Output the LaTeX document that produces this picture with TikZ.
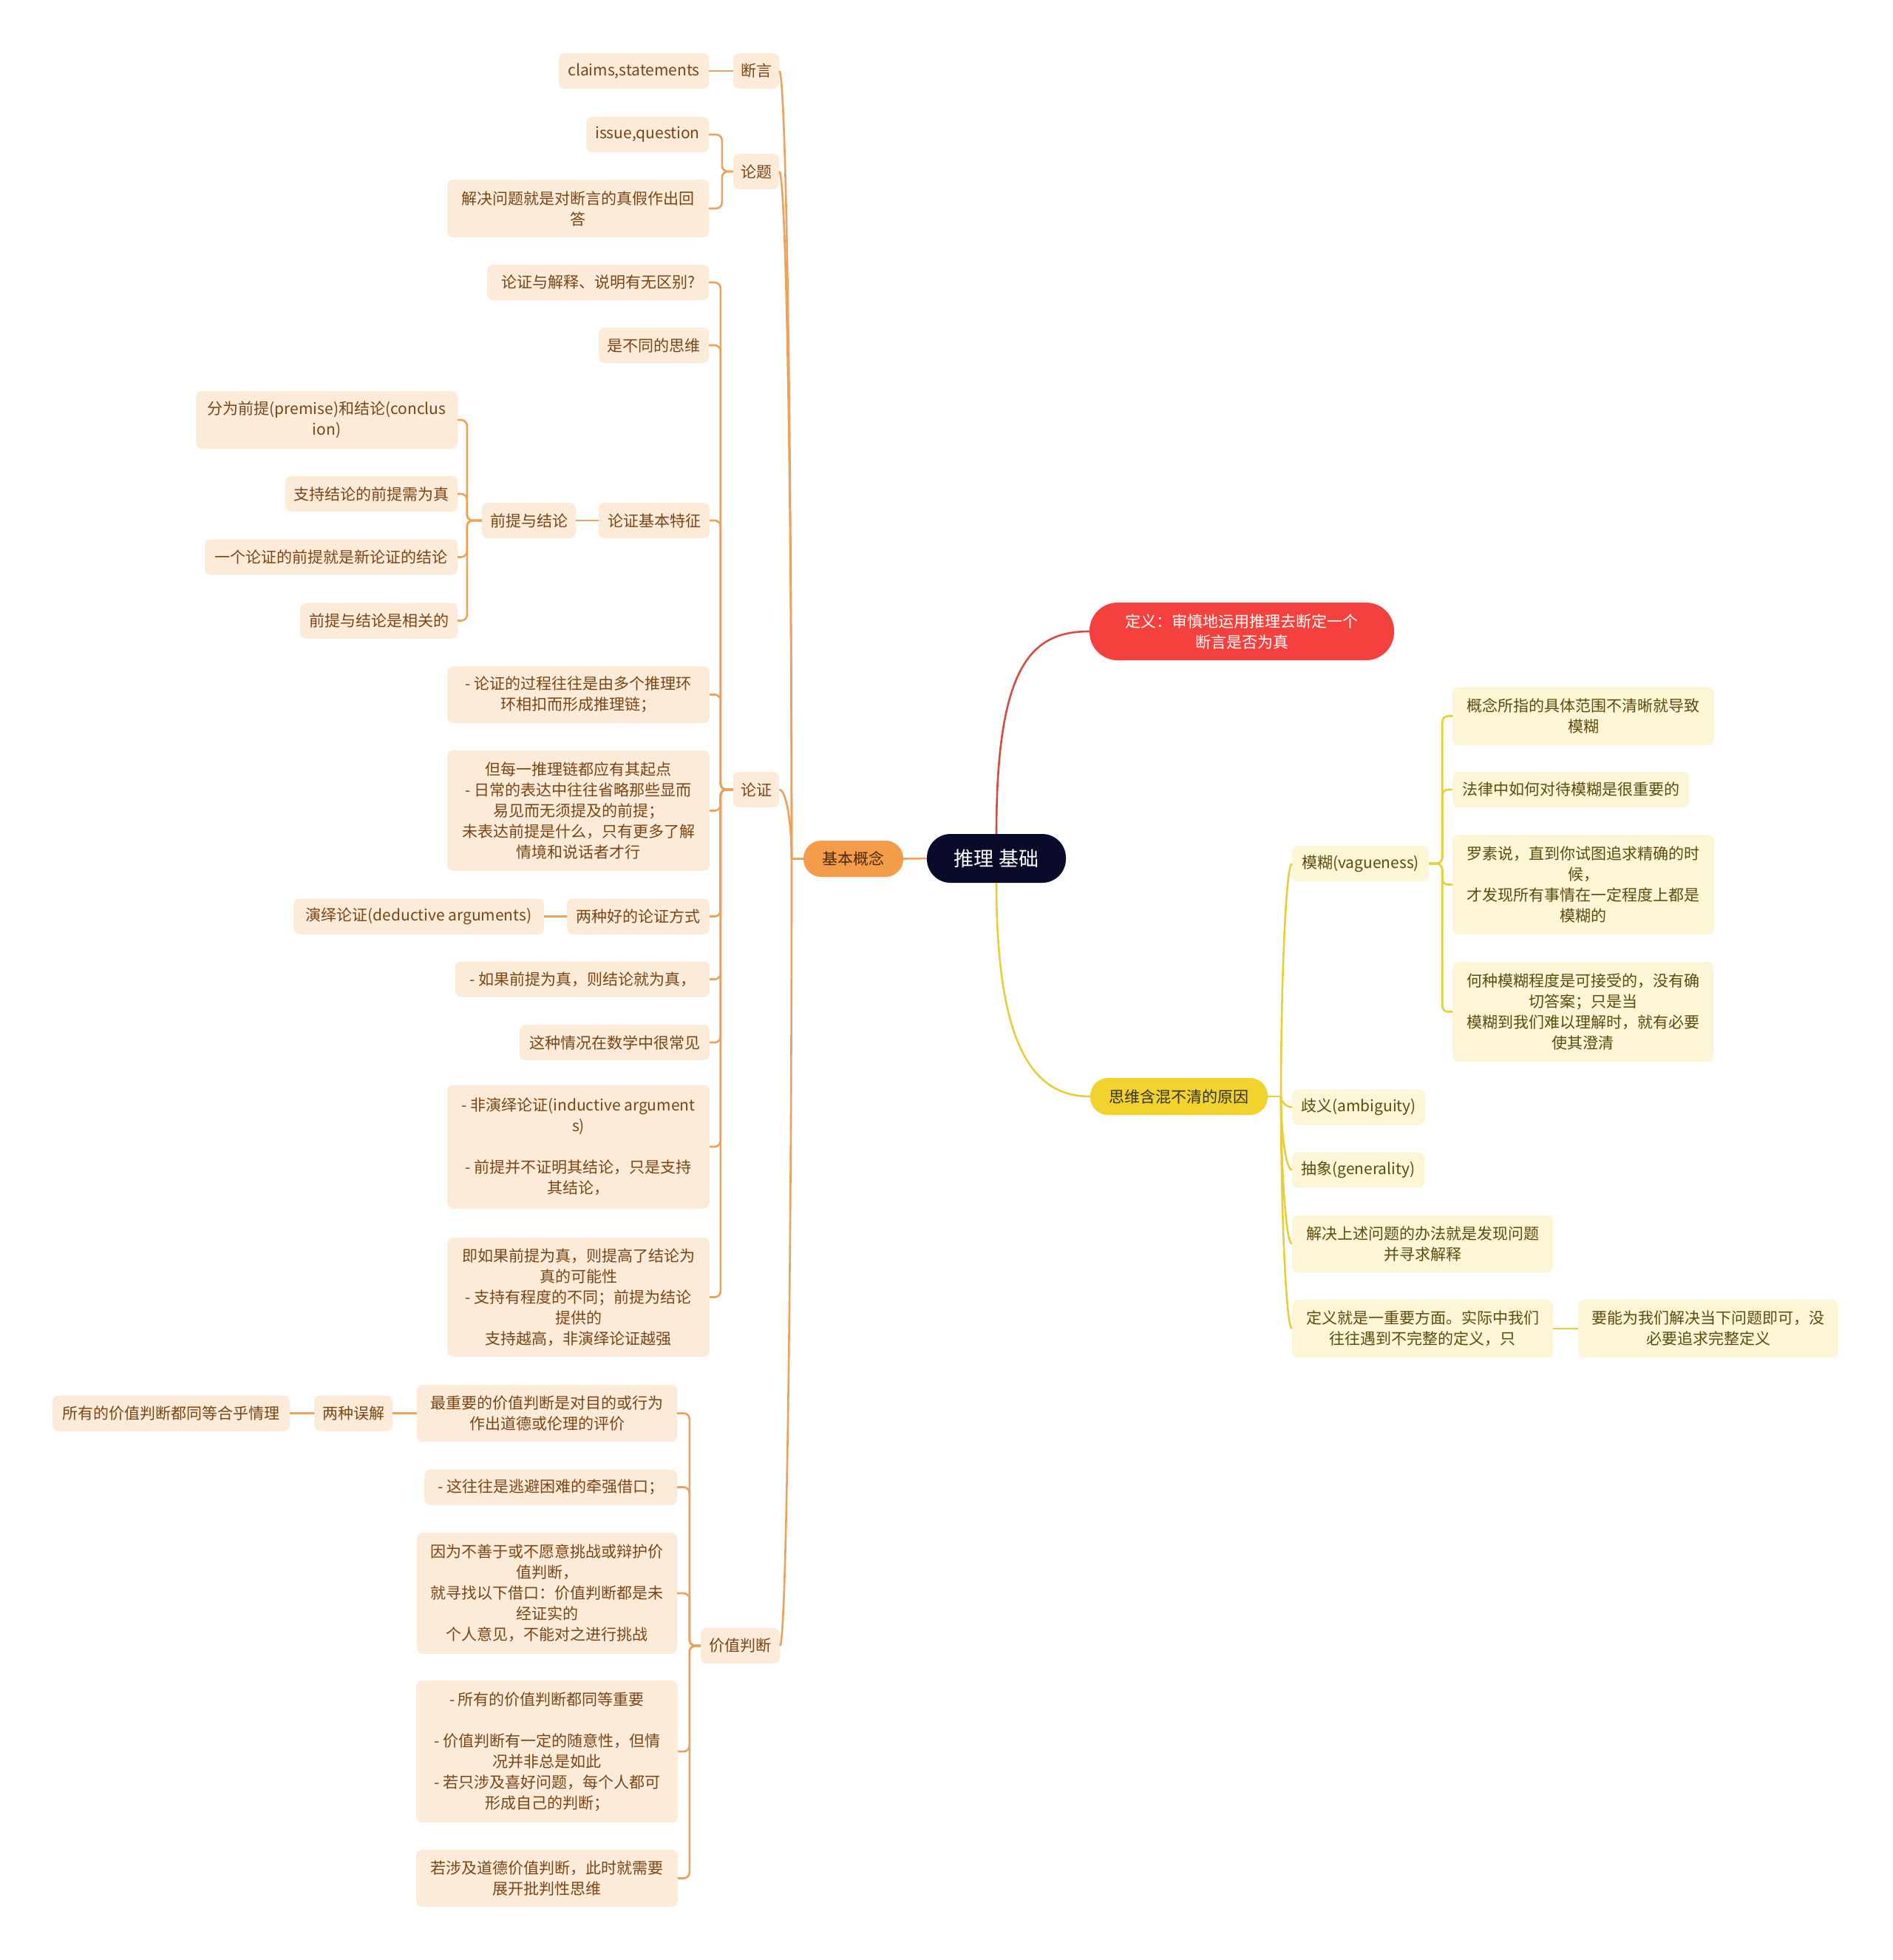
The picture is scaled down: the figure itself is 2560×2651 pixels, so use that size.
\documentclass[tikz,border=0pt]{standalone}
\usepackage{fontspec}
\usepackage{xcolor}
\usepackage{tikz}
\newfontfamily\cjk{Noto Sans CJK SC}
\definecolor{lorange}{HTML}{EDA15A}
\definecolor{lfill}{HTML}{FDEBDA}
\definecolor{ltext}{HTML}{7A4514}
\definecolor{rfill}{HTML}{FCF6D6}
\definecolor{rtext}{HTML}{5C4B0E}
\definecolor{ylw}{HTML}{F2D22C}
\definecolor{ylwline}{HTML}{E8CF3A}
\definecolor{redn}{HTML}{F5413D}
\definecolor{redline}{HTML}{D94A40}
\definecolor{navy}{HTML}{0A0A2A}
\definecolor{orn}{HTML}{F39C4A}

\begin{document}
\begin{tikzpicture}[x=1pt, y=-1pt,
  every node/.style={font=\cjk\fontsize{21}{28}\selectfont, align=center, inner sep=8pt},
  lbox/.style={rectangle, rounded corners=8pt, fill=lfill, text=ltext, minimum height=48pt},
  rbox/.style={rectangle, rounded corners=8pt, fill=rfill, text=rtext, minimum height=48pt},
  lline/.style={draw=lorange, line width=2.6pt},
  yline/.style={draw=ylwline, line width=2.6pt},
  rline/.style={draw=redline, line width=2.6pt},
  brk/.style={rounded corners=8pt}]
\fill[white] (0,0) rectangle (2560,2651);
\useasboundingbox (0,0) rectangle (2560,2651);

% centre and first level
\node (root) [rectangle, rounded corners=32pt, fill=navy, text=white, minimum width=188pt, minimum height=66pt, font=\cjk\fontsize{27}{32}\selectfont] at (1348,1161) {推理 基础};
\node (jb) [rectangle, rounded corners=24pt, fill=orn, text=ltext!60!black, minimum width=135pt, minimum height=49pt] at (1154.5,1161.5) {基本概念};
\node (def) [rectangle, rounded corners=38pt, fill=redn, text=white, minimum width=412pt, minimum height=78pt] at (1680,854) {定义：审慎地运用推理去断定一个\\断言是否为真};
\node (sw) [rectangle, rounded corners=24pt, fill=ylw, text=black!80, minimum width=240pt, minimum height=50pt] at (1595,1483) {思维含混不清的原因};

% left: 基本概念
\node (dy) [lbox, minimum width=62pt] at (1023,96) {断言};
\node (cs) [lbox, minimum width=203pt] at (857.5,96) {claims,statements};
\node (lt) [lbox, minimum width=62pt] at (1023,232) {论题};
\node (iq) [lbox, minimum width=166pt] at (876,182) {issue,question};
\node (jj) [lbox, minimum width=354pt, minimum height=78pt] at (782,282) {解决问题就是对断言的真假作出回\\答};
\node (lz) [lbox, minimum width=62pt] at (1023,1068) {论证};
\node (jz) [lbox, minimum width=107pt] at (1001.5,2226) {价值判断};

% 论证
\node (q1) [lbox, minimum width=300pt] at (809,382) {论证与解释、说明有无区别?};
\node (q2) [lbox, minimum width=149pt] at (884.5,467) {是不同的思维};
\node (q3) [lbox, minimum width=150pt] at (885,704) {论证基本特征};
\node (qj) [lbox, minimum width=127pt] at (715.5,704) {前提与结论};
\node (p1) [lbox, minimum width=354pt, minimum height=78pt] at (442,568) {分为前提(premise)和结论(conclus\\ion)};
\node (p2) [lbox, minimum width=233pt] at (502.5,668) {支持结论的前提需为真};
\node (p3) [lbox, minimum width=342pt] at (448,753.5) {一个论证的前提就是新论证的结论};
\node (p4) [lbox, minimum width=213pt] at (512.5,839.5) {前提与结论是相关的};
\node (q4) [lbox, minimum width=355pt, minimum height=77pt] at (782.5,939.5) {- 论证的过程往往是由多个推理环\\环相扣而形成推理链；};
\node (q5) [lbox, minimum width=355pt, minimum height=163pt] at (782.5,1096.5) {但每一推理链都应有其起点\\- 日常的表达中往往省略那些显而\\易见而无须提及的前提；\\未表达前提是什么，只有更多了解\\情境和说话者才行};
\node (q6) [lbox, minimum width=193pt] at (863.5,1239.5) {两种好的论证方式};
\node (yd) [lbox, minimum width=339pt] at (566.5,1239.5) {演绎论证(deductive arguments)};
\node (q7) [lbox, minimum width=344pt] at (788,1324.5) {- 如果前提为真，则结论就为真，};
\node (q8) [lbox, minimum width=257pt] at (831.5,1410) {这种情况在数学中很常见};
\node (q9) [lbox, minimum width=355pt, minimum height=167pt] at (782.5,1551) {- 非演绎论证(inductive argument\\s)\\[28pt]- 前提并不证明其结论，只是支持\\其结论，};
\node (q10) [lbox, minimum width=355pt, minimum height=161pt] at (782.5,1754.5) {即如果前提为真，则提高了结论为\\真的可能性\\- 支持有程度的不同；前提为结论\\提供的\\支持越高，非演绎论证越强};

% 价值判断
\node (v1) [lbox, minimum width=352pt, minimum height=77pt] at (740,1911.5) {最重要的价值判断是对目的或行为\\作出道德或伦理的评价};
\node (wj) [lbox, minimum width=106pt] at (478,1911.5) {两种误解};
\node (wa) [lbox, minimum width=321pt] at (231.5,1911.5) {所有的价值判断都同等合乎情理};
\node (v2) [lbox, minimum width=342pt] at (745,2011.5) {- 这往往是逃避困难的牵强借口；};
\node (v3) [lbox, minimum width=352pt, minimum height=164pt] at (740,2155) {因为不善于或不愿意挑战或辩护价\\值判断，\\就寻找以下借口：价值判断都是未\\经证实的\\个人意见，不能对之进行挑战};
\node (v4) [lbox, minimum width=354pt, minimum height=192pt] at (740,2369) {- 所有的价值判断都同等重要\\[28pt]- 价值判断有一定的随意性，但情\\况并非总是如此\\- 若只涉及喜好问题，每个人都可\\形成自己的判断；};
\node (v5) [lbox, minimum width=354pt, minimum height=77pt] at (740,2540.5) {若涉及道德价值判断，此时就需要\\展开批判性思维};

% right: 思维含混不清的原因
\node (mh) [rbox, minimum width=185pt] at (1840.5,1168) {模糊(vagueness)};
\node (m1) [rbox, minimum width=354pt, minimum height=79pt] at (2142,968.5) {概念所指的具体范围不清晰就导致\\模糊};
\node (m2) [rbox, minimum width=320pt] at (2125,1068) {法律中如何对待模糊是很重要的};
\node (m3) [rbox, minimum width=354pt, minimum height=135pt] at (2142,1196.5) {罗素说，直到你试图追求精确的时\\候，\\才发现所有事情在一定程度上都是\\模糊的};
\node (m4) [rbox, minimum width=353pt, minimum height=135pt] at (2141.5,1368.5) {何种模糊程度是可接受的，没有确\\切答案；只是当\\模糊到我们难以理解时，就有必要\\使其澄清};
\node (qy) [rbox, minimum width=180pt] at (1838,1497.5) {歧义(ambiguity)};
\node (cx) [rbox, minimum width=179pt] at (1837.5,1582.5) {抽象(generality)};
\node (jf) [rbox, minimum width=353pt, minimum height=77pt] at (1924.5,1682.5) {解决上述问题的办法就是发现问题\\并寻求解释};
\node (dd) [rbox, minimum width=353pt, minimum height=78pt] at (1924.5,1797) {定义就是一重要方面。实际中我们\\往往遇到不完整的定义，只};
\node (dz) [rbox, minimum width=352pt, minimum height=78pt] at (2311,1797) {要能为我们解决当下问题即可，没\\必要追求完整定义};

% connectors from the centre
\draw[lline] (jb.east) -- (root.west);
\draw[rline] (root.north) .. controls (1348,900) and (1395,854) .. (def.west);
\draw[yline] (root.south) .. controls (1348,1420) and (1400,1483) .. (sw.west);

% 基本概念 branches
\coordinate (jbj) at (1071,1161.5);
\draw[lline] (jb.west) -- (jbj);
\draw[lline] (dy.east) .. controls (1064,96) and (1071,629) .. (jbj);
\draw[lline] (lt.east) .. controls (1064,232) and (1071,697) .. (jbj);
\draw[lline] (lz.east) .. controls (1064,1068) and (1071,1115) .. (jbj);
\draw[lline] (jz.east) .. controls (1064,2226) and (1071,1694) .. (jbj);

\draw[lline] (dy.west) -- (cs.east);
\foreach \c in {iq,jj}
  \draw[lline, brk] (lt.west) -- ++(-15,0) |- (\c.east);
\foreach \c in {q1,q2,q3,q4,q5,q6,q7,q8,q9,q10}
  \draw[lline, brk] (lz.west) -- ++(-17,0) |- (\c.east);
\draw[lline] (q3.west) -- (qj.east);
\foreach \c in {p1,p2,p3,p4}
  \draw[lline, brk] (qj.west) -- ++(-20,0) |- (\c.east);
\draw[lline] (q6.west) -- (yd.east);
\foreach \c in {v1,v2,v3,v4,v5}
  \draw[lline, brk] (jz.west) -- ++(-15,0) |- (\c.east);
\draw[lline] (v1.west) -- (wj.east);
\draw[lline] (wj.west) -- (wa.east);

% 思维含混不清的原因 branches
\coordinate (swj) at (1733,1483);
\draw[yline] (sw.east) -- (swj);
\draw[yline] (mh.west) .. controls (1740,1168) and (1733,1325) .. (swj);
\draw[yline] (qy.west) .. controls (1740,1497.5) and (1733,1490) .. (swj);
\draw[yline] (cx.west) .. controls (1740,1582.5) and (1733,1533) .. (swj);
\draw[yline] (jf.west) .. controls (1740,1682.5) and (1733,1583) .. (swj);
\draw[yline] (dd.west) .. controls (1740,1797) and (1733,1640) .. (swj);
\foreach \c in {m1,m2,m3,m4}
  \draw[yline, brk] (mh.east) -- ++(18,0) |- (\c.west);
\draw[yline] (dd.east) -- (dz.west);
\end{tikzpicture}
\end{document}
